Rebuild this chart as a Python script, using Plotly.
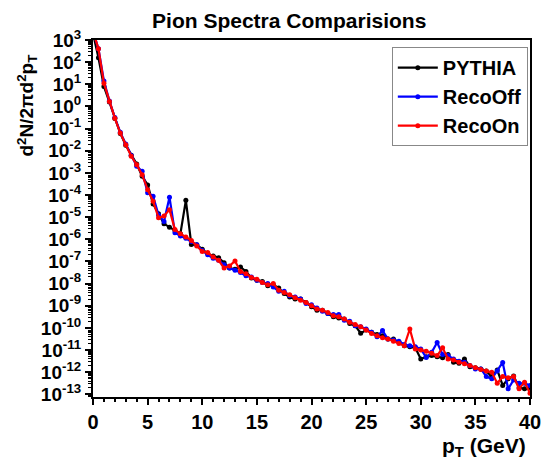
import plotly.graph_objects as go

pt = [0.0, 0.5, 1.0, 1.5, 2.0, 2.5, 3.0, 3.5, 4.0, 4.5, 5.0, 5.5, 6.0, 6.5, 7.0, 7.5, 8.0, 8.5, 9.0, 9.5,
      10.0, 10.5, 11.0, 11.5, 12.0, 12.5, 13.0, 13.5, 14.0, 14.5, 15.0, 15.5, 16.0, 16.5, 17.0, 17.5, 18.0, 18.5, 19.0, 19.5,
      20.0, 20.5, 21.0, 21.5, 22.0, 22.5, 23.0, 23.5, 24.0, 24.5, 25.0, 25.5, 26.0, 26.5, 27.0, 27.5, 28.0, 28.5, 29.0, 29.5,
      30.0, 30.5, 31.0, 31.5, 32.0, 32.5, 33.0, 33.5, 34.0, 34.5, 35.0, 35.5, 36.0, 36.5, 37.0, 37.5, 38.0, 38.5, 39.0, 39.5, 40.0]

pythia = [2.0e3, 1.58e2, 7.94, 1.58, 2.82e-1, 6.03e-2, 1.78e-2, 6.31e-3, 2.51e-3, 7.08e-4,
          2.82e-4, 3.98e-5, 1.41e-5, 5.01e-6, 3.55e-6, 2.51e-6, 1.78e-6, 5.75e-5, 5.89e-7, 5.62e-7,
          3.55e-7, 2.24e-7, 1.78e-7, 1.48e-7, 8.71e-8, 5.01e-8, 4.47e-8, 5.62e-8, 3.55e-8, 1.78e-8,
          1.41e-8, 1.26e-8, 7.94e-9, 8.91e-9, 6.31e-9, 3.55e-9, 2.51e-9, 2.0e-9, 2.0e-9, 1.41e-9,
          8.91e-10, 6.31e-10, 6.31e-10, 4.47e-10, 3.16e-10, 2.82e-10, 2.51e-10, 1.58e-10, 1.26e-10, 5.75e-11,
          7.94e-11, 6.31e-11, 5.01e-11, 4.47e-11, 3.16e-11, 3.16e-11, 2.24e-11, 1.58e-11, 1.41e-11, 1.26e-11,
          3.98e-12, 5.01e-12, 5.62e-12, 5.01e-12, 4.47e-12, 6.31e-12, 2.82e-12, 2.51e-12, 3.98e-12, 1.78e-12,
          1.58e-12, 1.41e-12, 1.12e-12, 6.31e-13, 1.26e-12, 2.51e-13, 5.01e-13, 6.76e-13, 2.0e-13, 1.78e-13, 2.0e-13]

reco_off = [2.5e3, 4.0e2, 14.1, 1.78, 3.16e-1, 6.76e-2, 2.0e-2, 6.03e-3, 2.0e-3, 1.17e-3,
            1.26e-4, 8.91e-5, 1.26e-5, 6.31e-6, 7.94e-5, 2.0e-6, 1.41e-6, 1.12e-6, 7.94e-7, 5.62e-7,
            3.16e-7, 2.0e-7, 1.41e-7, 1.12e-7, 7.08e-8, 5.01e-8, 3.98e-8, 3.16e-8, 2.24e-8, 2.0e-8,
            1.41e-8, 1.12e-8, 1.0e-8, 7.08e-9, 4.47e-9, 4.47e-9, 2.82e-9, 2.51e-9, 2.0e-9, 1.26e-9,
            1.12e-9, 7.94e-10, 5.62e-10, 4.47e-10, 3.98e-10, 4.07e-10, 2.24e-10, 2.0e-10, 1.26e-10, 1.12e-10,
            8.91e-11, 6.31e-11, 3.98e-11, 7.59e-11, 3.16e-11, 2.82e-11, 2.51e-11, 1.78e-11, 1.58e-11, 1.41e-11,
            1.12e-11, 4.57e-12, 7.94e-12, 2.19e-11, 6.31e-12, 5.62e-12, 3.98e-12, 3.16e-12, 2.82e-12, 2.0e-12,
            1.41e-12, 1.41e-12, 6.31e-13, 5.01e-13, 1.12e-12, 2.75e-12, 1.78e-13, 4.47e-13, 3.16e-13, 3.16e-13, 2.51e-13]

reco_on = [2.5e3, 4.0e2, 11.2, 1.66, 2.95e-1, 6.31e-2, 1.86e-2, 5.62e-3, 2.34e-3, 8.32e-4,
           1.74e-4, 5.25e-5, 9.33e-6, 1.12e-5, 2.19e-5, 2.75e-6, 1.78e-6, 1.26e-6, 8.91e-7, 5.01e-7,
           2.82e-7, 2.51e-7, 1.58e-7, 1.12e-7, 5.01e-8, 6.31e-8, 1.05e-7, 3.55e-8, 2.82e-8, 1.9e-8,
           1.58e-8, 1.12e-8, 8.91e-9, 1.0e-8, 5.01e-9, 3.98e-9, 3.16e-9, 2.29e-9, 1.78e-9, 1.41e-9,
           1.0e-9, 7.08e-10, 6.31e-10, 5.01e-10, 3.55e-10, 3.16e-10, 2.51e-10, 1.78e-10, 1.41e-10, 1.12e-10,
           7.94e-11, 5.62e-11, 4.47e-11, 3.55e-11, 3.16e-11, 2.51e-11, 2.0e-11, 1.58e-11, 8.91e-11, 1.12e-11,
           1.0e-11, 8.91e-12, 7.08e-12, 5.62e-12, 1.26e-11, 3.98e-12, 3.55e-12, 2.82e-12, 2.4e-12, 2.0e-12,
           1.58e-12, 1.32e-12, 1.12e-12, 1.0e-12, 3.16e-13, 6.31e-13, 5.62e-13, 6.31e-13, 1.78e-13, 3.55e-13, 1.12e-13]

series_names = ["PYTHIA", "RecoOff", "RecoOn"]
series_colors = ["#000000", "#0000ff", "#ff0000"]
series_data = [pythia, reco_off, reco_on]

y_exps = list(range(3, -14, -1))
y_tickvals = [10.0 ** e for e in y_exps]
y_ticktext = ["10<sup>%d</sup>" % e for e in y_exps]
x_ticks = [0, 5, 10, 15, 20, 25, 30, 35, 40]

FONT = "Liberation Sans, Arial, sans-serif"

fig = go.Figure()
for name, color, vals in zip(series_names, series_colors, series_data):
    fig.add_trace(go.Scatter(
        x=pt, y=vals, name=name, mode="lines+markers",
        line=dict(color=color, width=2.2),
        marker=dict(color=color, size=5),
        cliponaxis=True,
    ))

fig.update_layout(
    width=553, height=461,
    margin=dict(l=93, r=15, t=40, b=64),
    paper_bgcolor="white", plot_bgcolor="white",
    font=dict(family=FONT, color="black"),
    showlegend=True,
    title=dict(text="<b>Pion Spectra Comparisions</b>", x=0.523, xanchor="center",
               y=0.956, yanchor="middle", font=dict(size=21, family=FONT)),
    legend=dict(x=0.995, y=0.98, xanchor="right", yanchor="top",
                bgcolor="white", bordercolor="#888888", borderwidth=1,
                font=dict(size=20, family=FONT, weight="bold"),
                tracegroupgap=0, itemwidth=40),
)

fig.update_xaxes(
    range=[0, 40], tickvals=x_ticks, ticks="outside", ticklen=6, tickwidth=2,
    tickcolor="black", showline=True, linewidth=2, linecolor="black", mirror=True,
    showgrid=False, zeroline=False,
    tickfont=dict(size=20, family=FONT, weight="bold"),
    minor=dict(dtick=1, ticks="outside", ticklen=3, tickwidth=1.5, tickcolor="black", showgrid=False),
)

fig.update_yaxes(
    type="log", range=[-13.12, 3.0], tickvals=y_tickvals, ticktext=y_ticktext,
    ticks="outside", ticklen=6, tickwidth=2, tickcolor="black",
    showline=True, linewidth=2, linecolor="black", mirror=True,
    showgrid=False, zeroline=False,
    tickfont=dict(size=19, family=FONT, weight="bold"),
    minor=dict(dtick="D1", ticks="outside", ticklen=3, tickwidth=1, tickcolor="black", showgrid=False),
)

fig.add_annotation(
    text="<b>d<sup>2</sup>N/2πd<sup>2</sup>p<sub>T</sub></b>", xref="paper", yref="paper",
    x=-0.152, y=0.815, xanchor="center", yanchor="middle", textangle=-90, showarrow=False,
    font=dict(size=19, family=FONT, color="black"),
)

fig.add_annotation(
    text="<b>p<sub>T</sub> (GeV)</b>", xref="paper", yref="paper",
    x=0.995, y=-0.14, xanchor="right", yanchor="middle", showarrow=False,
    font=dict(size=21, family=FONT, color="black"),
)

fig.write_html("out.html")
